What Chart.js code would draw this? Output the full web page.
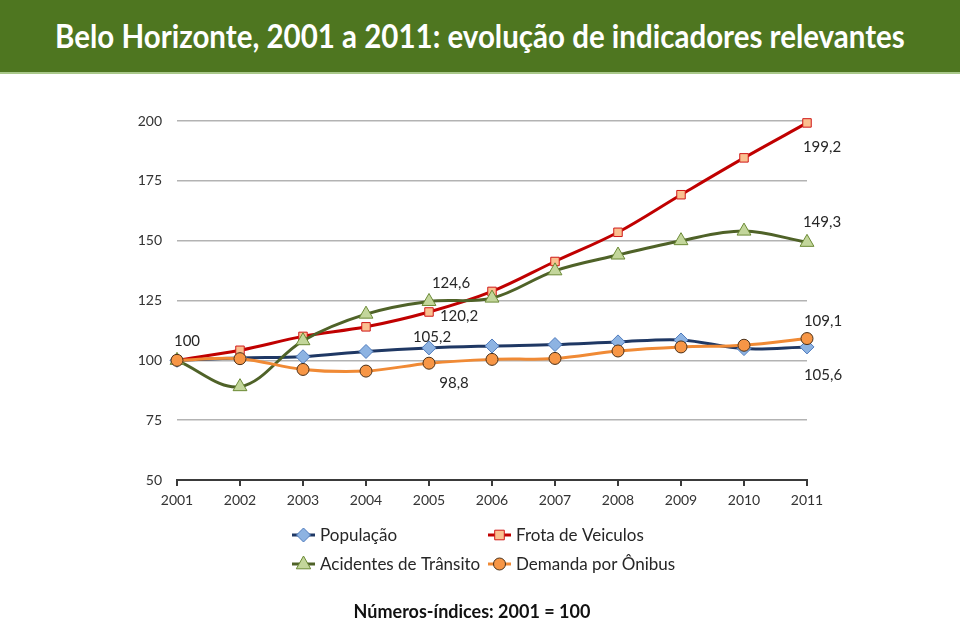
<!DOCTYPE html>
<html lang="pt-BR">
<head>
<meta charset="utf-8">
<title>Belo Horizonte, 2001 a 2011</title>
<script src="https://cdn.jsdelivr.net/npm/chart.js@4.4.0/dist/chart.umd.min.js"></script>
<style>
  html, body { margin: 0; padding: 0; background: #fff; }
  body { width: 960px; height: 619px; position: relative; overflow: hidden; }
  .titlebar {
    position: absolute; left: 0; top: 0; width: 960px; height: 72px;
    background: #4e7620; border-bottom: 2px solid #a9c88a;
    color: #fff; text-align: center; line-height: 72px;
  }
  .titlebar span {
    display: inline-block; white-space: nowrap;
    font-family: Lato, "Liberation Sans", sans-serif; font-weight: bold; font-size: 32px;
    transform-origin: center center;
  }
  .chart-wrap { position: absolute; left: 0; top: 74px; width: 960px; height: 545px; }
  .footnote {
    position: absolute; left: 0; width: 944px; top: 600px; text-align: center;
    font-family: Lato, sans-serif; font-weight: bold; font-size: 18px; color: #111;
  }
</style>
</head>
<body>
<div class="titlebar"><span id="title">Belo Horizonte, 2001 a 2011: evolução de indicadores relevantes</span></div>
<div class="chart-wrap"><canvas id="chart"></canvas></div>
<div class="footnote">Números-índices: 2001 = 100</div>

<script>
// ── dados (números-índices, 2001 = 100) ──────────────────────────
const YEARS = ['2001', '2002', '2003', '2004', '2005', '2006', '2007', '2008', '2009', '2010', '2011'];

const POPULACAO  = [100, 101.0, 101.5, 103.7, 105.2, 106.0, 106.6, 107.7, 108.5, 104.9, 105.6];
const FROTA      = [100, 104.2, 110.0, 114.0, 120.2, 128.8, 141.3, 153.5, 169.2, 184.6, 199.2];
const ACIDENTES  = [100, 89.0, 108.2, 119.3, 124.6, 126.0, 137.4, 144.0, 150.0, 154.0, 149.3];
const DEMANDA    = [100, 100.7, 96.2, 95.5, 98.8, 100.4, 100.8, 103.9, 105.6, 106.3, 109.1];

const Y_TICKS = [50, 75, 100, 125, 150, 175, 200];

// rótulos de valor: [dataset, ponto, dx, dy]
const VALUE_LABELS = [
  [3, 0, 10, -19],
  [2, 4, 22, -18],
  [1, 4, 30, 4],
  [0, 4, 3, -11],
  [3, 4, 25, 20],
  [1, 10, 15, 24],
  [2, 10, 15, -20],
  [3, 10, 16, -17],
  [0, 10, 16, 28],
];

const FONT = 'Lato, "Liberation Sans", sans-serif';

// título ocupa ~850px como no original (fonte condensada)
const titleEl = document.getElementById('title');
titleEl.style.transform = `scaleX(${850 / titleEl.offsetWidth})`;

function fmt(v) {
  return String(v).replace('.', ',');
}

function drawMarker(ctx, style, x, y, r) {
  ctx.beginPath();
  if (style === 'rectRot') {
    ctx.moveTo(x, y - r); ctx.lineTo(x + r, y); ctx.lineTo(x, y + r); ctx.lineTo(x - r, y);
  } else if (style === 'rect') {
    ctx.rect(x - r * 0.8, y - r * 0.8, r * 1.6, r * 1.6);
  } else if (style === 'triangle') {
    ctx.moveTo(x, y - r); ctx.lineTo(x + r * 0.9, y + r * 0.6); ctx.lineTo(x - r * 0.9, y + r * 0.6);
  } else {
    ctx.arc(x, y, r, 0, Math.PI * 2);
  }
  ctx.closePath();
  ctx.fill();
  ctx.stroke();
}

// rótulos de valor sobre os pontos
const valueLabelPlugin = {
  id: 'valueLabels',
  afterDatasetsDraw(chart) {
    const ctx = chart.ctx;
    ctx.save();
    ctx.font = '15px ' + FONT;
    ctx.fillStyle = '#262626';
    ctx.textAlign = 'center';
    ctx.textBaseline = 'middle';
    VALUE_LABELS.forEach(([d, i, dx, dy]) => {
      const pt = chart.getDatasetMeta(d).data[i];
      const v = chart.data.datasets[d].data[i];
      ctx.fillText(fmt(v), pt.x + dx, pt.y + dy);
    });
    ctx.restore();
  },
};

// legenda 2 x 2
const legendPlugin = {
  id: 'gridLegend',
  afterDraw(chart) {
    const ctx = chart.ctx;
    const spots = [[292, 461], [488, 461], [292, 490], [488, 490]];
    ctx.save();
    ctx.font = '17px ' + FONT;
    ctx.textBaseline = 'middle';
    ctx.textAlign = 'left';
    chart.data.datasets.forEach((ds, k) => {
      const [x, y] = spots[k];
      ctx.strokeStyle = ds.borderColor;
      ctx.lineWidth = 3;
      ctx.beginPath();
      ctx.moveTo(x, y);
      ctx.lineTo(x + 23, y);
      ctx.stroke();
      ctx.fillStyle = ds.pointBackgroundColor;
      ctx.strokeStyle = ds.pointBorderColor;
      ctx.lineWidth = 1;
      drawMarker(ctx, ds.pointStyle, x + 11.5, y, ds.pointRadius);
      ctx.fillStyle = '#262626';
      ctx.fillText(ds.label, x + 28, y + 1);
    });
    ctx.restore();
  },
};

function series(label, data, line, fill, border, style, radius, order) {
  return {
    label, data, order,
    borderColor: line,
    borderWidth: 3,
    pointStyle: style,
    pointRadius: radius,
    pointHoverRadius: radius,
    pointBackgroundColor: fill,
    pointBorderColor: border,
    pointBorderWidth: 1,
    tension: 0.35,
    fill: false,
    clip: false,
  };
}

new Chart(document.getElementById('chart'), {
  type: 'line',
  data: {
    labels: YEARS,
    datasets: [
      series('População', POPULACAO, '#1f3864', '#8db3e2', '#4f7bbd', 'rectRot', 7, 3),
      series('Frota de Veiculos', FROTA, '#c00000', '#fac090', '#d01818', 'rect', 6, 2),
      series('Acidentes de Trânsito', ACIDENTES, '#4f6228', '#c3d69b', '#6b8a35', 'triangle', 8, 1),
      series('Demanda por Ônibus', DEMANDA, '#f08a35', '#f79646', '#4a3018', 'circle', 6, 0),
    ],
  },
  options: {
    responsive: true,
    maintainAspectRatio: false,
    animation: false,
    layout: { padding: { left: 0, right: 153, top: 47, bottom: 99 } },
    plugins: {
      legend: { display: false },
      tooltip: { enabled: false },
    },
    scales: {
      x: {
        offset: false,
        grid: { drawOnChartArea: false, drawTicks: true, tickLength: 6, color: '#3a3a3a', lineWidth: 2 },
        border: { display: true, color: '#3a3a3a', width: 2 },
        ticks: { color: '#333', font: { family: FONT, size: 14 }, padding: 6, maxRotation: 0 },
        afterFit: s => { s.height = 40; },
      },
      y: {
        min: 50, max: 200,
        afterBuildTicks: s => { s.ticks = Y_TICKS.map(v => ({ value: v })); },
        grid: { color: '#b3b3b3', lineWidth: 1.5, drawTicks: false },
        border: { display: false },
        ticks: { color: '#333', font: { family: FONT, size: 14 }, padding: 15 },
        afterFit: s => { s.width = 177; },
      },
    },
  },
  plugins: [valueLabelPlugin, legendPlugin],
});
</script>
</body>
</html>
